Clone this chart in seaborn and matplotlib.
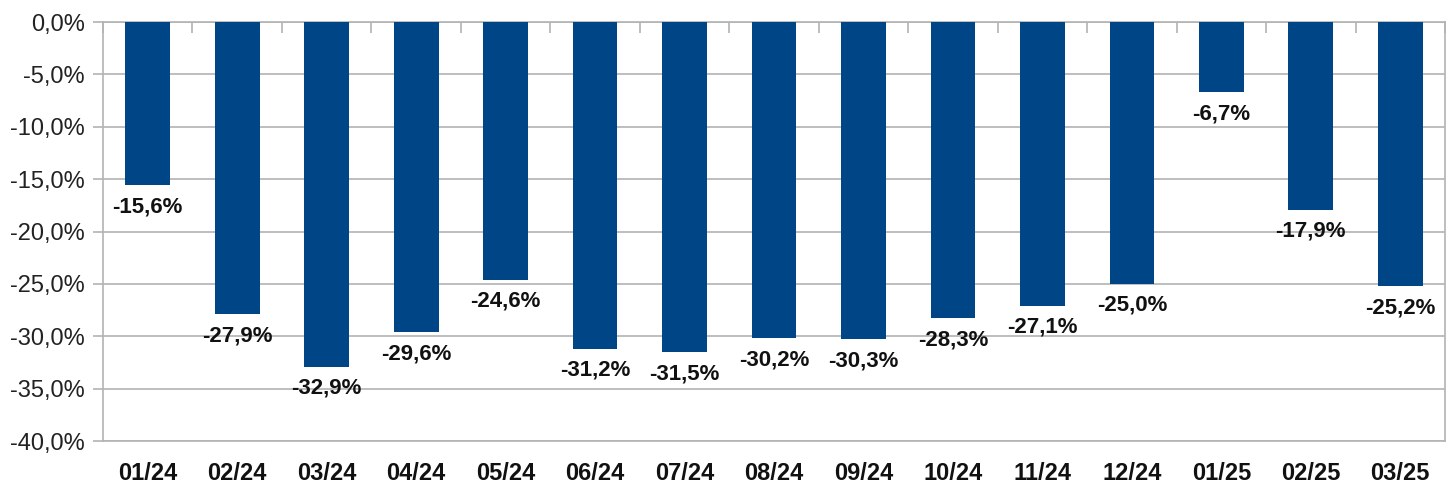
import matplotlib
matplotlib.use("Agg")
import matplotlib.pyplot as plt
import seaborn as sns
import numpy as np
import pandas as pd
from matplotlib.ticker import FuncFormatter, MultipleLocator

months = ["01/24", "02/24", "03/24", "04/24", "05/24", "06/24", "07/24", "08/24",
          "09/24", "10/24", "11/24", "12/24", "01/25", "02/25", "03/25"]
values = [-15.6, -27.9, -32.9, -29.6, -24.6, -31.2, -31.5, -30.2,
          -30.3, -28.3, -27.1, -25.0, -6.7, -17.9, -25.2]

sns.set_theme(style="white")
plt.rcParams['font.family'] = ['Liberation Sans', 'DejaVu Sans']

df = pd.DataFrame({"month": months, "value": values})

fig = plt.figure(figsize=(14.53, 4.88), dpi=100)
ax = fig.add_axes([103/1453, 1 - 441/488, (1445-103)/1453, (441-22)/488])

grid_c = "#b3b3b3"
sns.barplot(data=df, x="month", y="value", color="#004586", saturation=1,
            width=0.5, ax=ax, zorder=3, linewidth=0, edgecolor="#004586")

ax.set_ylim(-40, 0)
ax.set_xlim(-0.5, len(months) - 0.5)
ax.yaxis.set_major_locator(MultipleLocator(5))
ax.yaxis.set_major_formatter(FuncFormatter(lambda v, p: f"{v:.1f}%".replace(".", ",").replace("-0,0", "0,0")))
ax.grid(axis="y", color=grid_c, linewidth=1.2, zorder=0)
ax.set_axisbelow(True)
for s in ax.spines.values():
    s.set_visible(True)
    s.set_color(grid_c)
    s.set_linewidth(1.2)

ax.set_xlabel("")
ax.set_ylabel("")
ax.tick_params(axis="y", left=True, length=7, width=1.2, color=grid_c, pad=6,
               labelsize=17, labelcolor="#222222")
ax.tick_params(axis="x", which="major", bottom=False, length=0, pad=15,
               labelsize=17, labelcolor="#111111")
for lab in ax.get_xticklabels():
    lab.set_fontweight("bold")

ax.set_xticks(np.arange(-0.5, len(months), 1), minor=True)
ax.tick_params(axis="x", which="minor", bottom=False, top=True, direction="in",
               length=8, width=1.2, color=grid_c)

for i, v in enumerate(values):
    ax.annotate(f"{v:.1f}%".replace(".", ","), xy=(i, v), xytext=(0, -8),
                textcoords="offset points", ha="center", va="top",
                fontsize=16, fontweight="bold", color="#111111", zorder=4)

fig.savefig("out.png", dpi=100)
